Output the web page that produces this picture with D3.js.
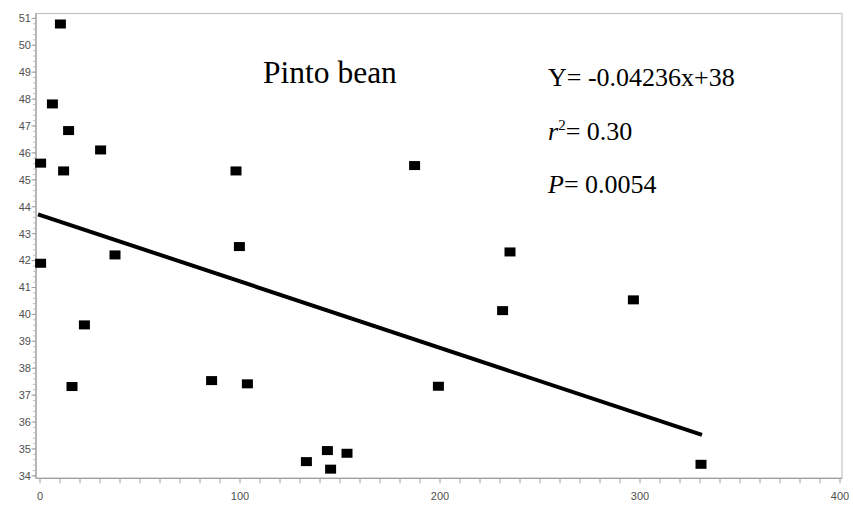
<!DOCTYPE html>
<html>
<head>
<meta charset="utf-8">
<script src="https://cdn.jsdelivr.net/npm/d3@7"></script>
<style>
    body { margin: 0; background: #fff; }
    .tick-label { font-family: "Liberation Sans", Arial, sans-serif; font-size: 11px; fill: #505050; }
    .note { font-family: "Liberation Serif", "Times New Roman", serif; fill: #000; }
</style>
</head>
<body>
<svg id="chart" width="853" height="507"></svg>
<script>
// days (x) and values (y)
var beanX = [10.2, 6.2, 14.3, 0.3, 11.8, 30.3, 0.3, 22.2, 16, 37.5,
             98, 99.7, 85.8, 103.7, 133.2, 143.7, 145.3, 153.5,
             187.3, 199.2, 235, 231.3, 296.7, 330.5];
var beanY = [50.79, 47.82, 46.83, 45.62, 45.33, 46.11, 41.90, 39.61, 37.32, 42.21,
             45.33, 42.52, 37.54, 37.42, 34.53, 34.94, 34.25, 34.84,
             45.53, 37.33, 42.32, 40.14, 40.54, 34.43];

// fitted line end points
var fitX = [-1, 331];
var fitY = [43.72, 35.52];

var xTicks = d3.range(0, 401, 10);
var xLabels = [0, 100, 200, 300, 400];
var yTicks = d3.range(34, 52, 1);
var yMinor = d3.range(34, 51.01, 0.2);

var title = "Pinto bean";
var eqText = "Y= -0.04236x+38";
var r2Text = "0.30";
var pText = "0.0054";

var svg = d3.select("#chart");

var x = d3.scaleLinear().domain([-2, 401]).range([36, 842]);
var y = d3.scaleLinear().domain([33.91, 51.18]).range([478.3, 13.5]);

// frame
svg.append("rect")
    .attr("x", x(-2)).attr("y", y(51.18))
    .attr("width", x(401) - x(-2)).attr("height", y(33.91) - y(51.18))
    .attr("fill", "none").attr("stroke", "#c4c4c4").attr("stroke-width", 1.2);

// x axis
var xAxis = svg.append("g");
xAxis.append("line")
    .attr("x1", x(-2)).attr("x2", x(401))
    .attr("y1", y(33.91)).attr("y2", y(33.91))
    .attr("stroke", "#a0a0a0").attr("stroke-width", 1.2);
xAxis.selectAll(".xt").data(xTicks).enter().append("line")
    .attr("x1", d => x(d)).attr("x2", d => x(d))
    .attr("y1", y(33.91)).attr("y2", y(33.91) + 5)
    .attr("stroke", "#a0a0a0").attr("stroke-width", 1);
xAxis.selectAll(".xl").data(xLabels).enter().append("text")
    .attr("class", "tick-label")
    .attr("x", d => x(d)).attr("y", 500)
    .attr("text-anchor", "middle")
    .text(d => d);

// y axis
var yAxis = svg.append("g");
yAxis.append("line")
    .attr("x1", x(-2)).attr("x2", x(-2))
    .attr("y1", y(33.91)).attr("y2", y(51.18))
    .attr("stroke", "#a0a0a0").attr("stroke-width", 1.2);
yAxis.selectAll(".ym").data(yMinor).enter().append("line")
    .attr("x1", x(-2) - 3).attr("x2", x(-2))
    .attr("y1", d => y(d)).attr("y2", d => y(d))
    .attr("stroke", "#b0b0b0").attr("stroke-width", 0.8);
yAxis.selectAll(".yt").data(yTicks).enter().append("line")
    .attr("x1", x(-2) - 4.5).attr("x2", x(-2))
    .attr("y1", d => y(d)).attr("y2", d => y(d))
    .attr("stroke", "#a0a0a0").attr("stroke-width", 1);
yAxis.selectAll(".yl").data(yTicks).enter().append("text")
    .attr("class", "tick-label")
    .attr("x", 31).attr("y", d => y(d))
    .attr("dy", "0.35em")
    .attr("text-anchor", "end")
    .text(d => d);

// fitted line
svg.append("path")
    .datum(d3.zip(fitX, fitY))
    .attr("d", d3.line().x(d => x(d[0])).y(d => y(d[1])))
    .attr("stroke", "#000").attr("stroke-width", 4).attr("fill", "none");

// points
var sqW = 11, sqH = 9;
svg.selectAll(".pt").data(d3.zip(beanX, beanY)).enter().append("rect")
    .attr("x", d => x(d[0]) - sqW / 2)
    .attr("y", d => y(d[1]) - sqH / 2)
    .attr("width", sqW).attr("height", sqH)
    .attr("fill", "#000");

// notes
svg.append("text").attr("class", "note")
    .attr("x", 263).attr("y", 82.5)
    .style("font-size", "31.5px")
    .text(title);

svg.append("text").attr("class", "note")
    .attr("x", 548).attr("y", 86)
    .style("font-size", "26px")
    .text(eqText);

var r2 = svg.append("text").attr("class", "note")
    .attr("x", 548).attr("y", 140)
    .style("font-size", "26px");
r2.append("tspan").style("font-style", "italic").text("r");
r2.append("tspan").attr("dy", -10).style("font-size", "15px").text("2");
r2.append("tspan").attr("dy", 10).text("= " + r2Text);

var p = svg.append("text").attr("class", "note")
    .attr("x", 548).attr("y", 193)
    .style("font-size", "26px");
p.append("tspan").style("font-style", "italic").text("P");
p.append("tspan").text("= " + pText);
</script>
</body>
</html>
